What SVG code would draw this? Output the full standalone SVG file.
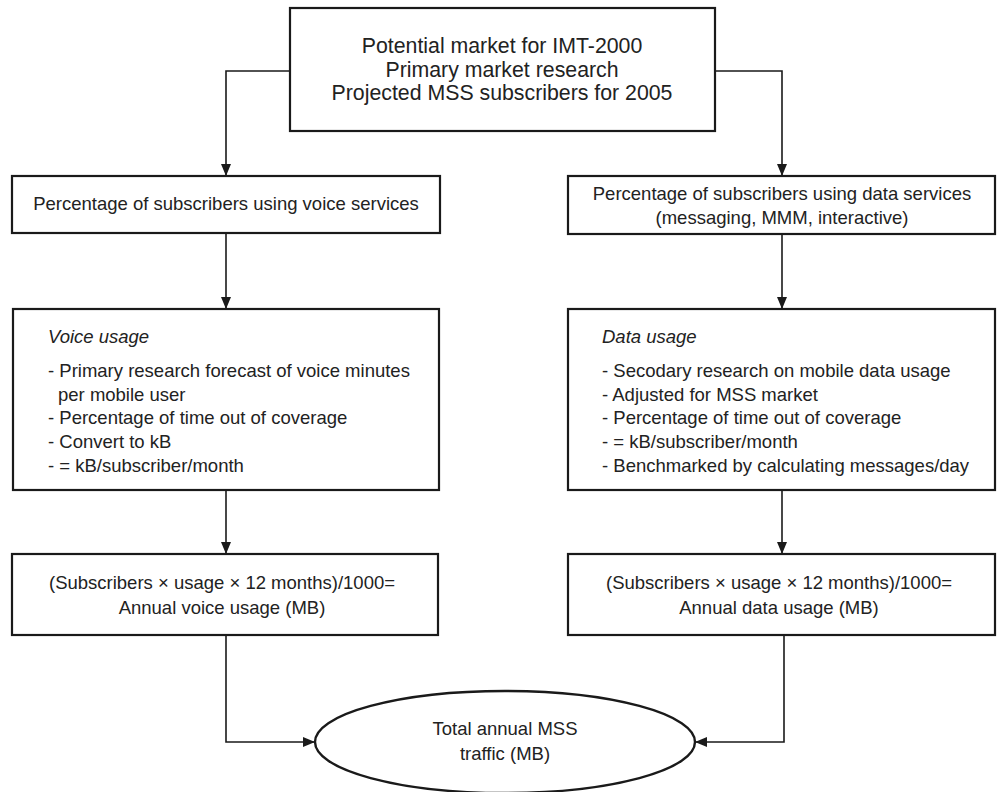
<svg xmlns="http://www.w3.org/2000/svg" width="998" height="792" viewBox="0 0 998 792">
<defs>
<marker id="ah" markerWidth="12" markerHeight="10" refX="12" refY="5" orient="auto" markerUnits="userSpaceOnUse">
<path d="M0,0 L12,5 L0,10 Z" fill="#1a1a1a"/>
</marker>
<style>
.box{fill:#fff;stroke:#1a1a1a;stroke-width:2.2}
.t{font-family:"Liberation Sans",Arial,sans-serif;font-size:18.5px;fill:#222}
.big{font-size:21.3px}
.c{text-anchor:middle}
.i{font-style:italic}
.ln{fill:none;stroke:#1a1a1a;stroke-width:1.6;marker-end:url(#ah)}
</style>
</defs>
<rect width="998" height="792" fill="#fff"/>
<g id="connectors">
<path class="ln" d="M290,71 H226 V176"/>
<path class="ln" d="M715,71 H782 V176"/>
<path class="ln" d="M226,233 V309"/>
<path class="ln" d="M782,234 V309"/>
<path class="ln" d="M226,490 V554"/>
<path class="ln" d="M782,490 V554"/>
<path class="ln" d="M226,635 V742 H315"/>
<path class="ln" d="M784,635 V742 H695"/>
</g>
<g id="top">
<rect class="box" x="290" y="8" width="425" height="123"/>
<text class="t big c" x="502" y="53">Potential market for IMT-2000</text>
<text class="t big c" x="502" y="77">Primary market research</text>
<text class="t big c" x="502" y="100">Projected MSS subscribers for 2005</text>
</g>
<g id="voice-pct">
<rect class="box" x="12" y="176" width="428" height="57"/>
<text class="t c" x="226" y="210">Percentage of subscribers using voice services</text>
</g>
<g id="data-pct">
<rect class="box" x="568" y="176" width="427" height="58"/>
<text class="t c" x="782" y="200">Percentage of subscribers using data services</text>
<text class="t c" x="782" y="224">(messaging, MMM, interactive)</text>
</g>
<g id="voice-usage">
<rect class="box" x="13" y="309" width="426" height="181"/>
<text class="t i" x="48" y="343">Voice usage</text>
<text class="t" x="48" y="377">- Primary research forecast of voice minutes</text>
<text class="t" x="58" y="401">per mobile user</text>
<text class="t" x="48" y="424">- Percentage of time out of coverage</text>
<text class="t" x="48" y="448">- Convert to kB</text>
<text class="t" x="48" y="472">- = kB/subscriber/month</text>
</g>
<g id="data-usage">
<rect class="box" x="568" y="309" width="427" height="181"/>
<text class="t i" x="602" y="343">Data usage</text>
<text class="t" x="602" y="377">- Secodary research on mobile data usage</text>
<text class="t" x="602" y="401">- Adjusted for MSS market</text>
<text class="t" x="602" y="424">- Percentage of time out of coverage</text>
<text class="t" x="602" y="448">- = kB/subscriber/month</text>
<text class="t" x="602" y="472">- Benchmarked by calculating messages/day</text>
</g>
<g id="voice-annual">
<rect class="box" x="12" y="554" width="426" height="81"/>
<text class="t c" x="222" y="589">(Subscribers × usage × 12 months)/1000=</text>
<text class="t c" x="222" y="614">Annual voice usage (MB)</text>
</g>
<g id="data-annual">
<rect class="box" x="568" y="554" width="427" height="81"/>
<text class="t c" x="779" y="589">(Subscribers × usage × 12 months)/1000=</text>
<text class="t c" x="779" y="614">Annual data usage (MB)</text>
</g>
<g id="total">
<ellipse cx="505" cy="742" rx="190" ry="51" fill="#fff" stroke="#1a1a1a" stroke-width="2.4"/>
<text class="t c" x="505" y="735">Total annual MSS</text>
<text class="t c" x="505" y="760">traffic (MB)</text>
</g>
</svg>
